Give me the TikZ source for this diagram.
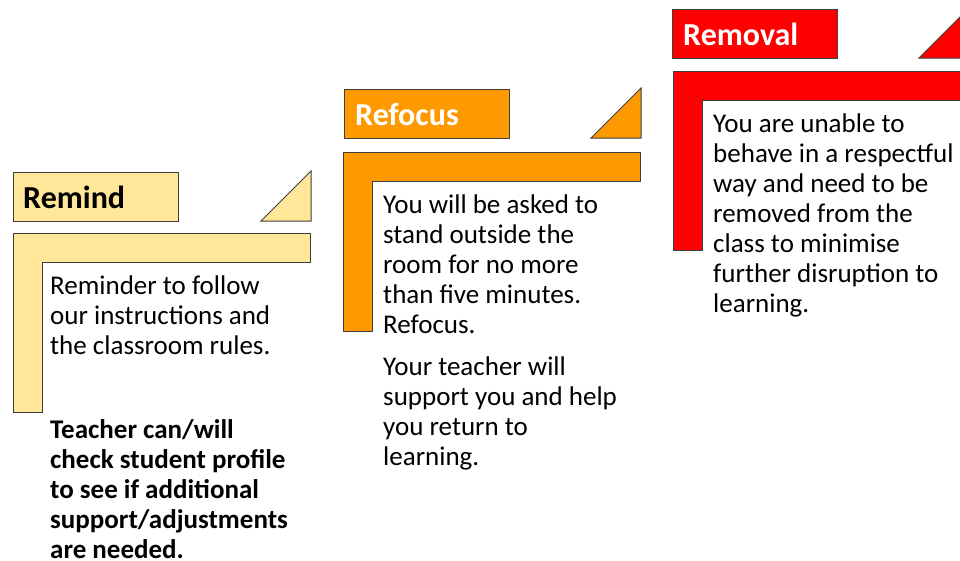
\documentclass[tikz,border=0pt]{standalone}
\usepackage{fontspec}
\setmainfont{Carlito}
\definecolor{remindc}{HTML}{FFE699}
\definecolor{refocusc}{HTML}{FF9900}
\definecolor{removalc}{HTML}{FF0000}
\definecolor{edgec}{HTML}{3F3F3F}
\tikzset{
  shapeline/.style={draw=edgec, line width=1pt},
  titlebox/.style={shapeline, rectangle, anchor=north west, minimum width=165pt, minimum height=49pt, inner sep=0pt},
  titletext/.style={anchor=west, inner sep=0pt, font=\fontsize{32}{38}\selectfont\bfseries},
  bodytext/.style={anchor=north west, inner sep=0pt, align=left, font=\fontsize{27}{30}\selectfont},
}
\newcommand{\stepL}[3]{% x, y, colour
  \draw[shapeline, fill=#3] (#1,#2) -- ++(297,0) -- ++(0,29) -- ++(-268,0) -- ++(0,150) -- ++(-29,0) -- cycle;}
\begin{document}
\begin{tikzpicture}[x=1pt, y=-1pt]
\useasboundingbox (0,0) rectangle (960,560);
\clip (0,0) rectangle (960,560);
\fill[white] (0,0) rectangle (960,560);

% Remind
\node[titlebox, fill=remindc] (remindbox) at (13,172) {};
\node[titletext, text=black] (remindtitle) at (23,197) {Remind};
\draw[shapeline, fill=remindc] (261,221) -- (311,171) -- (311,221) -- cycle;
\stepL{13}{233}{remindc}
\node[bodytext] (remindtext) at (50,276) {Reminder to follow\\our instructions and\\the classroom rules.};
\node[bodytext, font=\fontsize{27}{30}\selectfont\bfseries] (remindnote) at (50,419) {Teacher can/will\\check student profile\\to see if additional\\support/adjustments\\are needed.};

% Refocus
\node[titlebox, fill=refocusc] (refocusbox) at (344,89) {};
\node[titletext, text=white] (refocustitle) at (355,114) {Refocus};
\draw[shapeline, fill=refocusc] (591,138) -- (641,88) -- (641,138) -- cycle;
\stepL{343}{152}{refocusc}
\node[bodytext] (refocustext) at (383,195) {You will be asked to\\stand outside the\\room for no more\\than five minutes.\\Refocus.};
\node[bodytext] (refocusnote) at (383,357) {Your teacher will\\support you and help\\you return to\\learning.};

% Removal
\node[titlebox, fill=removalc] (removalbox) at (672,9) {};
\node[titletext, text=white] (removaltitle) at (683,34) {Removal};
\draw[shapeline, fill=removalc] (919,58) -- (969,8) -- (969,58) -- cycle;
\stepL{673}{71}{removalc}
\node[bodytext] (removaltext) at (713,114) {You are unable to\\behave in a respectful\\way and need to be\\removed from the\\class to minimise\\further disruption to\\learning.};
\end{tikzpicture}
\end{document}
